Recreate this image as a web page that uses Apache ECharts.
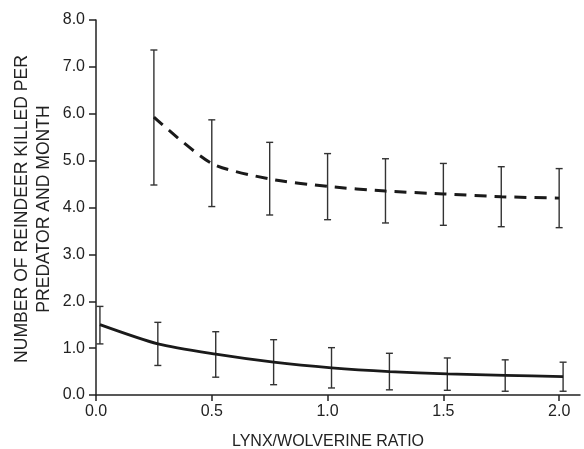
<!DOCTYPE html>
<html>
<head>
<meta charset="utf-8">
<script src="https://cdn.jsdelivr.net/npm/echarts@6/dist/echarts.min.js"></script>
<style>
html,body{margin:0;padding:0;background:#fff;}
#chart{width:584px;height:449px;}
</style>
</head>
<body>
<div id="chart"></div>
<script>
// Upper (dashed) curve: x, mean, lower and upper error values
const dashedX = [0.25, 0.5, 0.75, 1.0, 1.25, 1.5, 1.75, 2.0];
const dashedMean = [5.93, 4.94, 4.61, 4.45, 4.35, 4.29, 4.23, 4.20];
const dashedLow = [4.48, 4.02, 3.84, 3.74, 3.67, 3.62, 3.59, 3.57];
const dashedHigh = [7.36, 5.87, 5.39, 5.15, 5.04, 4.94, 4.87, 4.83];

// Lower (solid) curve
const solidX = [0.017, 0.267, 0.517, 0.767, 1.017, 1.267, 1.517, 1.767, 2.017];
const solidMean = [1.50, 1.09, 0.87, 0.70, 0.58, 0.50, 0.45, 0.42, 0.39];
const solidLow = [1.09, 0.63, 0.38, 0.22, 0.15, 0.11, 0.10, 0.08, 0.08];
const solidHigh = [1.89, 1.55, 1.35, 1.18, 1.01, 0.89, 0.79, 0.75, 0.70];

// Tick labels
const xTicks = [0, 0.5, 1.0, 1.5, 2.0];
const yTicks = [0, 1, 2, 3, 4, 5, 6, 7, 8];

const xTitle = 'LYNX/WOLVERINE RATIO';
const yTitle = 'NUMBER OF REINDEER KILLED PER\nPREDATOR AND MONTH';

const FONT = '"Liberation Sans", Arial, Helvetica, sans-serif';
const INK = '#222';

function pairs(xs, ys) { return xs.map((x, i) => [x, ys[i]]); }
function bars(xs, lo, hi) { return xs.map((x, i) => [x, lo[i], hi[i]]); }

function renderErr(params, api) {
  const x = api.value(0);
  const p1 = api.coord([x, api.value(1)]);
  const p2 = api.coord([x, api.value(2)]);
  const hw = 3.5;
  const st = { stroke: '#333', lineWidth: 1.4 };
  return {
    type: 'group',
    children: [
      { type: 'line', shape: { x1: p1[0], y1: p1[1], x2: p2[0], y2: p2[1] }, style: st },
      { type: 'line', shape: { x1: p1[0] - hw, y1: p1[1], x2: p1[0] + hw, y2: p1[1] }, style: st },
      { type: 'line', shape: { x1: p2[0] - hw, y1: p2[1], x2: p2[0] + hw, y2: p2[1] }, style: st }
    ]
  };
}

const chart = echarts.init(document.getElementById('chart'), null, { renderer: 'canvas' });
chart.setOption({
  animation: false,
  backgroundColor: '#fff',
  textStyle: { fontFamily: FONT },
  grid: { left: 96, right: 4, top: 20, bottom: 54, containLabel: false },
  xAxis: {
    type: 'value',
    min: 0,
    max: 2.09,
    interval: 0.5,
    splitLine: { show: false },
    axisLine: { show: true, lineStyle: { color: INK, width: 1.5 } },
    axisTick: { show: true, length: 6, customValues: xTicks, lineStyle: { color: INK, width: 1.5 } },
    axisLabel: {
      customValues: xTicks,
      margin: 9,
      color: INK,
      fontSize: 16,
      fontFamily: FONT,
      formatter: v => v.toFixed(1)
    }
  },
  yAxis: {
    type: 'value',
    min: 0,
    max: 8,
    interval: 1,
    splitLine: { show: false },
    axisLine: { show: true, lineStyle: { color: INK, width: 1.5 } },
    axisTick: { show: true, length: 7, customValues: yTicks, lineStyle: { color: INK, width: 1.5 } },
    axisLabel: {
      customValues: yTicks,
      margin: 11,
      color: INK,
      fontSize: 16,
      fontFamily: FONT,
      formatter: v => v.toFixed(1)
    }
  },
  graphic: [
    {
      type: 'text',
      x: 328, y: 442,
      style: { text: xTitle, font: '16px ' + FONT, fill: INK, align: 'center', verticalAlign: 'middle' }
    },
    {
      type: 'text',
      x: 33, y: 209,
      rotation: Math.PI / 2,
      style: { text: yTitle, font: '17.6px ' + FONT, fill: INK, align: 'center', verticalAlign: 'middle', lineHeight: 22 }
    }
  ],
  series: [
    {
      type: 'custom',
      renderItem: renderErr,
      data: bars(dashedX, dashedLow, dashedHigh),
      encode: { x: 0, y: [1, 2] },
      z: 2
    },
    {
      type: 'custom',
      renderItem: renderErr,
      data: bars(solidX, solidLow, solidHigh),
      encode: { x: 0, y: [1, 2] },
      z: 2
    },
    {
      type: 'line',
      data: pairs(dashedX, dashedMean),
      smooth: 0.25,
      showSymbol: false,
      lineStyle: { color: '#1a1a1a', width: 3, type: [12, 8] },
      z: 3
    },
    {
      type: 'line',
      data: pairs(solidX, solidMean),
      smooth: 0.25,
      showSymbol: false,
      lineStyle: { color: '#1a1a1a', width: 2.8 },
      z: 3
    }
  ]
});
</script>
</body>
</html>
